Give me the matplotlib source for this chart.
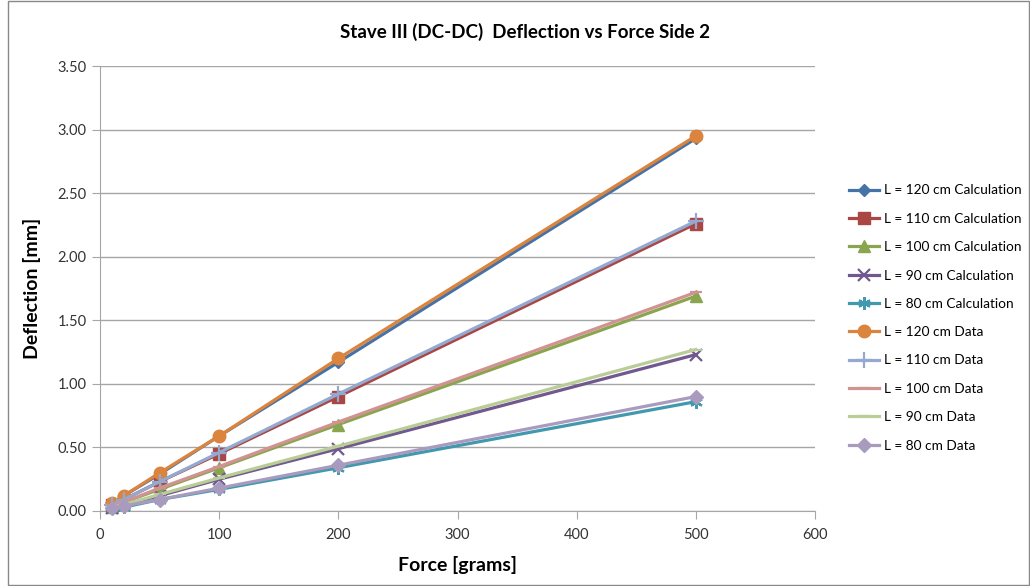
import matplotlib
matplotlib.use("Agg")
import matplotlib.pyplot as plt
from matplotlib.patches import Rectangle

force = [10, 20, 50, 100, 200, 500]

labels = ["L = 120 cm Calculation", "L = 110 cm Calculation", "L = 100 cm Calculation",
          "L = 90 cm Calculation", "L = 80 cm Calculation",
          "L = 120 cm Data", "L = 110 cm Data", "L = 100 cm Data",
          "L = 90 cm Data", "L = 80 cm Data"]

calc_120 = [0.06, 0.12, 0.29, 0.59, 1.17, 2.93]
calc_110 = [0.05, 0.09, 0.23, 0.45, 0.90, 2.26]
calc_100 = [0.03, 0.07, 0.17, 0.34, 0.68, 1.69]
calc_90 = [0.02, 0.05, 0.12, 0.25, 0.49, 1.23]
calc_80 = [0.02, 0.03, 0.09, 0.17, 0.34, 0.86]
data_120 = [0.06, 0.12, 0.30, 0.59, 1.20, 2.95]
data_110 = [0.05, 0.09, 0.23, 0.46, 0.92, 2.28]
data_100 = [0.04, 0.07, 0.18, 0.35, 0.70, 1.72]
data_90 = [0.03, 0.05, 0.13, 0.26, 0.51, 1.27]
data_80 = [0.02, 0.04, 0.09, 0.18, 0.36, 0.90]

series = [calc_120, calc_110, calc_100, calc_90, calc_80,
          data_120, data_110, data_100, data_90, data_80]
colors = ["#4572A7", "#AA4643", "#89A54E", "#71588F", "#4198AF",
          "#DB843D", "#93A9CF", "#D19392", "#B9CD96", "#A99BBD"]
markers = ["D", "s", "^", "x", (6, 2, 0), "o", "+", "_", "_", "D"]
msizes = [6, 8, 8, 8, 9, 9, 11, 9, 9, 7]

plt.rcParams['font.family'] = ['Lato', 'DejaVu Sans']

fig = plt.figure(figsize=(10.30, 5.86), dpi=100)
ax = fig.add_axes([100/1030, 1-511/586, 715/1030, 445/586])

for ys, c, m, ms, lab in zip(series, colors, markers, msizes, labels):
    mew = 1.6 if m in ("x", "+", (6, 2, 0), "_") else 1.0
    ax.plot(force, ys, color=c, lw=2.3, marker=m, markersize=ms,
            markeredgecolor=c, markerfacecolor=c, markeredgewidth=mew,
            label=lab, clip_on=False, zorder=3)

ax.set_xlim(0, 600)
ax.set_ylim(0, 3.5)
ax.set_xticks(range(0, 601, 100))
ax.set_yticks([i * 0.5 for i in range(8)])
ax.set_yticklabels([f"{i*0.5:.2f}" for i in range(8)])
ax.grid(axis='y', color='#A6A6A6', lw=1)
ax.set_axisbelow(True)
for s in ['top', 'right']:
    ax.spines[s].set_visible(False)
for s in ['left', 'bottom']:
    ax.spines[s].set_color('#A6A6A6')
ax.tick_params(axis='both', colors='#A6A6A6', labelcolor='#333333', labelsize=10.5,
               length=6, direction='out')
ax.tick_params(axis='x', pad=6)

ax.set_xlabel("Force [grams]", fontsize=14, fontweight='bold', labelpad=10)
ax.set_ylabel("Deflection [mm]", fontsize=14, fontweight='bold', labelpad=12)
fig.text(525/1030, 1-32/586, "Stave III (DC-DC)  Deflection vs Force Side 2",
         ha='center', va='center', fontsize=13.5, fontweight='bold')

leg = ax.legend(loc='center left', bbox_to_anchor=(845/1030, 1-318/586),
                bbox_transform=fig.transFigure, frameon=False, fontsize=9.8,
                labelspacing=1.2, handlelength=2.2, handletextpad=0.35,
                borderaxespad=0, borderpad=0.3)

fig.patches.append(Rectangle((8/1030, 0.002), 1 - 9/1030, 0.996, transform=fig.transFigure,
                             fill=False, edgecolor='#888888', lw=1))

fig.savefig("out.png", dpi=100)
